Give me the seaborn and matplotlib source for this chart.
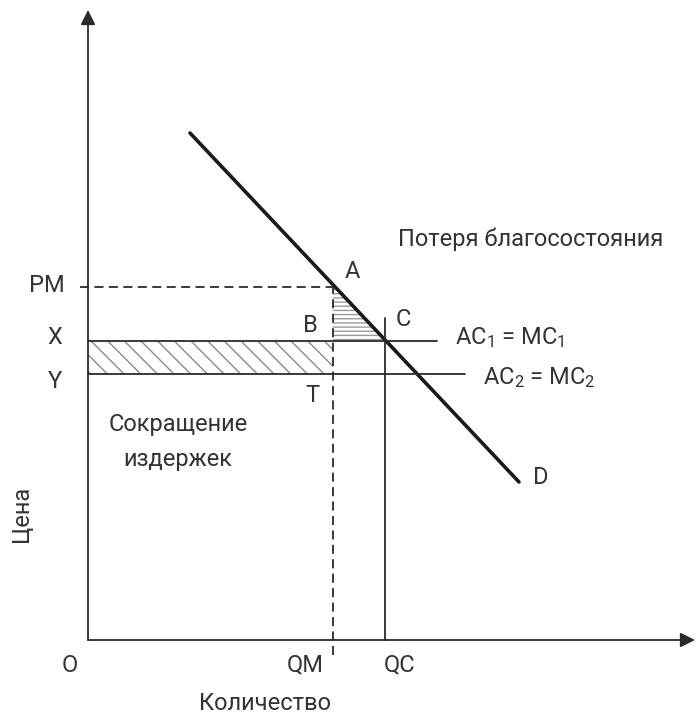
import numpy as np
import pandas as pd
import matplotlib
matplotlib.use("Agg")
import matplotlib.pyplot as plt
import seaborn as sns

# === data (quantity / price units) ===
demand_q = [102, 431]
demand_p = [507, 158]
QM, QC = 245, 297
PM, X, Y = 353, 299, 266
ac1_end, ac2_end = 349, 377
qc_top = 322
q_max, p_max = 607, 630

sns.set_style("white")
plt.rcParams['font.family'] = ['Roboto', 'DejaVu Sans']
plt.rcParams['mathtext.fontset'] = 'custom'
plt.rcParams['mathtext.rm'] = 'Roboto'
plt.rcParams['mathtext.it'] = 'Roboto'

ink = '#2b2b2b'
txt = '#333333'

fig = plt.figure(figsize=(6.98, 7.14), dpi=100)
ax = fig.add_axes([0, 0, 1, 1])
ax.set_xlim(-88, 610)
ax.set_ylim(-74, 640)
ax.axis('off')

# axes with arrows
ax.annotate('', xy=(0, p_max), xytext=(0, 0),
            arrowprops=dict(arrowstyle='-|>', color=ink, lw=1.3, mutation_scale=22,
                            shrinkA=0, shrinkB=0))
ax.annotate('', xy=(q_max, 0), xytext=(0, 0),
            arrowprops=dict(arrowstyle='-|>', color=ink, lw=1.3, mutation_scale=22,
                            shrinkA=0, shrinkB=0))

# hatched areas
ax.fill_between([0, QM], [Y, Y], [X, X], facecolor='none', edgecolor='#8a8a8a',
                linewidth=0, hatch='\\\\')
ax.fill([QM, QM, QC], [PM, X, X], facecolor='none', edgecolor='#9a9a9a',
        linewidth=0, hatch='----')

# demand
sns.lineplot(x=demand_q, y=demand_p, ax=ax, color='#1a1a1a', lw=2.6)

# cost lines
sns.lineplot(x=[0, ac1_end], y=[X, X], ax=ax, color=ink, lw=1.3)
sns.lineplot(x=[0, ac2_end], y=[Y, Y], ax=ax, color=ink, lw=1.3)
ax.plot([QC, QC], [0, qc_top], color=ink, lw=1.3)

# dashed guides
ax.plot([-8, QM], [PM, PM], color=ink, lw=1.3, ls=(0, (5, 3)))
ax.plot([QM, QM], [-15, PM], color=ink, lw=1.3, ls=(0, (5, 3)))

fs = 17
ax.text(-41, PM + 1, 'PM', ha='center', va='center', fontsize=fs, color=txt)
ax.text(-33, X + 3, 'X', ha='center', va='center', fontsize=fs, color=txt)
ax.text(-33, Y - 7, 'Y', ha='center', va='center', fontsize=fs, color=txt)
ax.text(-18, -25, 'O', ha='center', va='center', fontsize=fs, color=txt)
ax.text(QM - 28, -25, 'QM', ha='center', va='center', fontsize=fs, color=txt)
ax.text(QC + 15, -25, 'QC', ha='center', va='center', fontsize=fs, color=txt)
ax.text(177, -64, 'Количество', ha='center', va='center', fontsize=fs, color=txt)
ax.text(-66, 126, 'Цена', ha='center', va='center', fontsize=fs, color=txt, rotation=90)
ax.text(264, 369, 'A', ha='center', va='center', fontsize=fs, color=txt)
ax.text(222, 315, 'B', ha='center', va='center', fontsize=fs, color=txt)
ax.text(315, 320, 'C', ha='center', va='center', fontsize=fs, color=txt)
ax.text(224, 245, 'T', ha='center', va='center', fontsize=fs, color=txt)
ax.text(453, 163, 'D', ha='center', va='center', fontsize=fs, color=txt)
ax.text(367, X + 3, 'AC$_1$ = MC$_1$', ha='left', va='center', fontsize=fs, color=txt)
ax.text(395, Y - 4, 'AC$_2$ = MC$_2$', ha='left', va='center', fontsize=fs, color=txt)
ax.text(310, 401, 'Потеря благосостояния', ha='left', va='center', fontsize=fs, color=txt)
ax.text(90, 198, 'Сокращение\nиздержек', ha='center', va='center', fontsize=fs,
        color=txt, linespacing=1.65)

fig.savefig('out.png', dpi=100)
